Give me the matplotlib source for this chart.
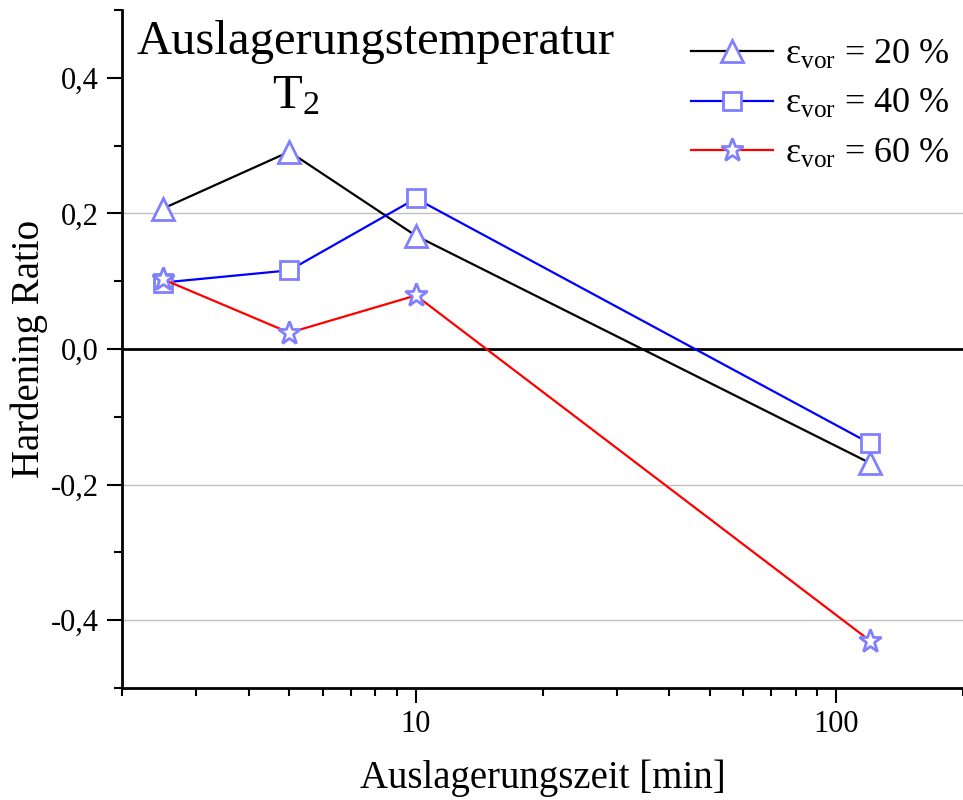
import numpy as np
import matplotlib
matplotlib.use("Agg")
import matplotlib.pyplot as plt
from matplotlib.ticker import FixedLocator, FuncFormatter, LogLocator, NullFormatter

plt.rcParams['font.family'] = ['Liberation Serif', 'DejaVu Serif']
plt.rcParams['mathtext.fontset'] = 'custom'
plt.rcParams['mathtext.rm'] = 'Liberation Serif'
plt.rcParams['mathtext.it'] = 'Liberation Serif:italic'

# data
zeit = [2.5, 5, 10, 120]
hr_20 = [0.207, 0.291, 0.167, -0.168]
hr_40 = [0.098, 0.116, 0.222, -0.139]
hr_60 = [0.103, 0.024, 0.079, -0.43]
labels = ['ε$_{\\mathrm{vor}}$ = 20 %', 'ε$_{\\mathrm{vor}}$ = 40 %', 'ε$_{\\mathrm{vor}}$ = 60 %']
grid_y = [0.2, -0.2, -0.4]

mcol = '#8080ff'

fig = plt.figure(figsize=(9.63, 8), dpi=100)
ax = fig.add_axes([0.1267, 0.14, 0.8733, 0.8475])

for g in grid_y:
    ax.axhline(g, color='#c0c0c0', lw=1, zorder=0)
ax.axhline(0, color='black', lw=2, zorder=1)

ax.plot(zeit, hr_20, color='black', lw=1.6, marker='^', ms=16, mfc='white',
        mec=mcol, mew=2, label=labels[0], zorder=3)
ax.plot(zeit, hr_40, color='blue', lw=1.6, marker='s', ms=13, mfc='white',
        mec=mcol, mew=2, label=labels[1], zorder=3)
ax.plot(zeit, hr_60, color='red', lw=1.6, marker='*', ms=17, mfc='white',
        mec=mcol, mew=2, label=labels[2], zorder=3)

ax.set_xscale('log')
ax.set_xlim(2, 200)
ax.set_ylim(-0.5, 0.5)

ax.xaxis.set_major_locator(FixedLocator([10, 100]))
ax.xaxis.set_major_formatter(FuncFormatter(lambda v, p: '%d' % v))
ax.xaxis.set_minor_locator(LogLocator(base=10, subs=np.arange(2, 10), numticks=20))
ax.xaxis.set_minor_formatter(NullFormatter())

ax.set_yticks([-0.4, -0.2, 0.0, 0.2, 0.4])
ax.set_yticks([-0.5, -0.3, -0.1, 0.1, 0.3, 0.5], minor=True)
ax.yaxis.set_major_formatter(FuncFormatter(lambda v, p: ('%.1f' % v).replace('.', ',').replace('-0,0', '0,0')))

ax.tick_params(axis='both', which='major', direction='out', length=11, width=1.5, labelsize=22, pad=6)
ax.tick_params(axis='both', which='minor', direction='out', length=6, width=1.5)
ax.tick_params(axis='x', which='major', pad=5)

for s in ['top', 'right']:
    ax.spines[s].set_visible(False)
for s in ['left', 'bottom']:
    ax.spines[s].set_linewidth(2)

ax.set_xlabel('Auslagerungszeit [min]', fontsize=28)
ax.xaxis.set_label_coords(0.5, -0.105)
ax.set_ylabel('Hardening Ratio', fontsize=28, labelpad=2)

ax.text(0.302, 0.985, 'Auslagerungstemperatur', transform=ax.transAxes,
        ha='center', va='top', fontsize=35)
ax.text(0.207, 0.905, 'T$_2$', transform=ax.transAxes, ha='center', va='top', fontsize=35)

leg = ax.legend(loc='upper right', bbox_to_anchor=(1.01, 0.99), frameon=False,
                fontsize=26, handlelength=2.25, handletextpad=0.35, labelspacing=0.45,
                borderaxespad=0.2)

fig.savefig('out.png', dpi=100)
